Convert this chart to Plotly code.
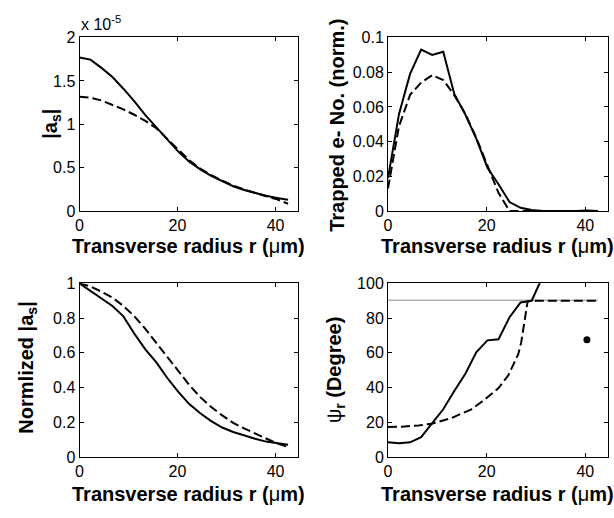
import plotly.graph_objects as go
from plotly.subplots import make_subplots

# ---------------- data ----------------
r = [0, 2.24, 4.48, 6.72, 8.96, 11.2, 13.44, 15.68, 17.92, 20.16,
     22.4, 24.64, 26.88, 29.12, 31.36, 33.6, 35.84, 38.08, 40.32, 42.56]

# |a_s| in units of 1e-5
as_solid = [1.77, 1.745, 1.65, 1.545, 1.41, 1.265, 1.105, 0.965, 0.82, 0.685,
            0.57, 0.48, 0.405, 0.343, 0.286, 0.243, 0.205, 0.176, 0.152, 0.130]
as_dashed = [1.317, 1.306, 1.275, 1.228, 1.172, 1.11, 1.04, 0.955, 0.83, 0.70,
             0.585, 0.49, 0.415, 0.352, 0.293, 0.248, 0.207, 0.172, 0.135, 0.085]

trap_solid = [0.019, 0.056, 0.079, 0.093, 0.090, 0.0918, 0.0675, 0.0556, 0.0416, 0.025,
              0.0155, 0.0052, 0.0019, 0.0006, 0.0001, 0.0, 0.0, 0.0, 0.0004, 0.0]
trap_dashed = [0.013, 0.049, 0.067, 0.074, 0.0783, 0.0755, 0.0668, 0.056, 0.042, 0.0262,
               0.0105, 0.0, 0.0, 0.0, 0.0, 0.0, 0.0, 0.0, 0.0, 0.0]

norm_solid = [1.0, 0.955, 0.915, 0.87, 0.81, 0.71, 0.62, 0.545, 0.455, 0.375,
              0.305, 0.252, 0.207, 0.17, 0.144, 0.123, 0.105, 0.089, 0.079, 0.071]
norm_dashed = [1.0, 0.982, 0.952, 0.918, 0.87, 0.81, 0.738, 0.657, 0.57, 0.49,
               0.415, 0.345, 0.288, 0.24, 0.197, 0.165, 0.137, 0.11, 0.078, 0.058]

psi_r_solid = r[:15]
psi_solid = [8.5, 8.0, 8.5, 11.5, 19.5, 27.5, 38.0, 48.0, 60.5, 67.2,
             67.8, 80.5, 89.0, 90.0, 104.0]
psi_r_dashed = [0, 2.8, 6.2, 8.9, 12.9, 16.9, 19.6, 22.4, 24.4, 26.4,
                27.0, 27.4, 27.9, 28.3, 29.0, 42.56]
psi_dashed = [17.3, 17.5, 18.2, 19.2, 22.5, 27.5, 33.1, 39.7, 47.1, 59.2,
              66.0, 74.0, 83.0, 89.6, 90.0, 90.0]
ref_r = [0, 42.56]
ref_psi = [90.3, 90.3]
dot_r = [40.32]
dot_psi = [67.5]

x_ticks = [0, 20, 40]

# ---------------- figure ----------------
W, H = 614, 518
fig = make_subplots(rows=2, cols=2)

solid = dict(color="black", width=2)
dashed = dict(color="black", width=2, dash="9px,4px")

fig.add_trace(go.Scatter(x=r, y=as_solid, mode="lines", line=solid), 1, 1)
fig.add_trace(go.Scatter(x=r, y=as_dashed, mode="lines", line=dashed), 1, 1)
fig.add_trace(go.Scatter(x=r, y=trap_solid, mode="lines", line=solid), 1, 2)
fig.add_trace(go.Scatter(x=r, y=trap_dashed, mode="lines", line=dashed), 1, 2)
fig.add_trace(go.Scatter(x=r, y=norm_solid, mode="lines", line=solid), 2, 1)
fig.add_trace(go.Scatter(x=r, y=norm_dashed, mode="lines", line=dashed), 2, 1)
fig.add_trace(go.Scatter(x=ref_r, y=ref_psi, mode="lines", line=dict(color="#8a8a8a", width=1)), 2, 2)
fig.add_trace(go.Scatter(x=psi_r_solid, y=psi_solid, mode="lines", line=solid), 2, 2)
fig.add_trace(go.Scatter(x=psi_r_dashed, y=psi_dashed, mode="lines", line=dashed), 2, 2)
fig.add_trace(go.Scatter(x=dot_r, y=dot_psi, mode="markers",
                         marker=dict(color="black", size=7)), 2, 2)

def px_dom_x(a, b):
    return [a / W, b / W]

def px_dom_y(top, bottom):
    return [1 - bottom / H, 1 - top / H]

tickfont = dict(family="Liberation Sans, Arial, sans-serif", size=16, color="black")
axis_common = dict(showline=True, linecolor="black", linewidth=1, mirror="allticks",
                   ticks="inside", ticklen=4, tickcolor="black", showgrid=False,
                   zeroline=False, tickfont=tickfont)

left_x = px_dom_x(76, 295.5)
right_x = px_dom_x(386.5, 607.5)
top_y = px_dom_y(30.5, 210)
bot_y = px_dom_y(284.7, 464.3)

fig.update_layout(
    xaxis=dict(domain=left_x, range=[0, 44.5], tickvals=x_ticks, **axis_common),
    yaxis=dict(domain=top_y, range=[0, 2], tickvals=[0, 0.5, 1, 1.5, 2], **axis_common),
    xaxis2=dict(domain=right_x, range=[0, 44.5], tickvals=x_ticks, **axis_common),
    yaxis2=dict(domain=top_y, range=[0, 0.1], tickvals=[0, 0.02, 0.04, 0.06, 0.08, 0.1],
                ticktext=["0", "0.02", "0.04", "0.06", "0.08", "0.1"], **axis_common),
    xaxis3=dict(domain=left_x, range=[0, 44.5], tickvals=x_ticks, **axis_common),
    yaxis3=dict(domain=bot_y, range=[0, 1], tickvals=[0, 0.2, 0.4, 0.6, 0.8, 1],
                ticktext=["0", "0.2", "0.4", "0.6", "0.8", "1"], **axis_common),
    xaxis4=dict(domain=right_x, range=[0, 44.5], tickvals=x_ticks, **axis_common),
    yaxis4=dict(domain=bot_y, range=[0, 100], tickvals=[0, 20, 40, 60, 80, 100], **axis_common),
    width=W, height=H, margin=dict(l=0, r=0, t=0, b=0),
    paper_bgcolor="white", plot_bgcolor="white", showlegend=False,
)

tfont = dict(family="Liberation Sans, Arial, sans-serif", size=20, color="black")
xtitle = "<b>Transverse radius r (</b>μ<b>m)</b>"
anns = []
for cx, cy in [((76 + 295.5) / 2, 246), ((386.5 + 607.5) / 2, 246),
               ((76 + 295.5) / 2, 503), ((386.5 + 607.5) / 2, 503)]:
    anns.append(dict(x=cx / W, y=1 - cy / H, xref="paper", yref="paper", text=xtitle,
                     showarrow=False, xanchor="center", yanchor="middle", font=tfont))
ytitles = [
    (47, 120, "<b>|a<sub>s</sub>|</b>"),
    (335, 121, "<b>Trapped e- No. (norm.)</b>"),
    (24, 372, "<b>Normlized |a<sub>s</sub>|</b>"),
    (333, 374.5, "ψ<sub><b>r</b></sub><b> (Degree)</b>"),
]
for cx, cy, t in ytitles:
    anns.append(dict(x=cx / W, y=1 - cy / H, xref="paper", yref="paper", text=t,
                     showarrow=False, xanchor="center", yanchor="middle",
                     textangle=-90, font=tfont))
anns.append(dict(x=75 / W, y=1 - 15 / H, xref="paper", yref="paper",
                 text="x 10<sup>-5</sup>", showarrow=False, xanchor="left", yanchor="middle",
                 font=dict(family="Liberation Sans, Arial, sans-serif", size=16, color="black")))
fig.update_layout(annotations=anns)

fig.write_html("out.html")
